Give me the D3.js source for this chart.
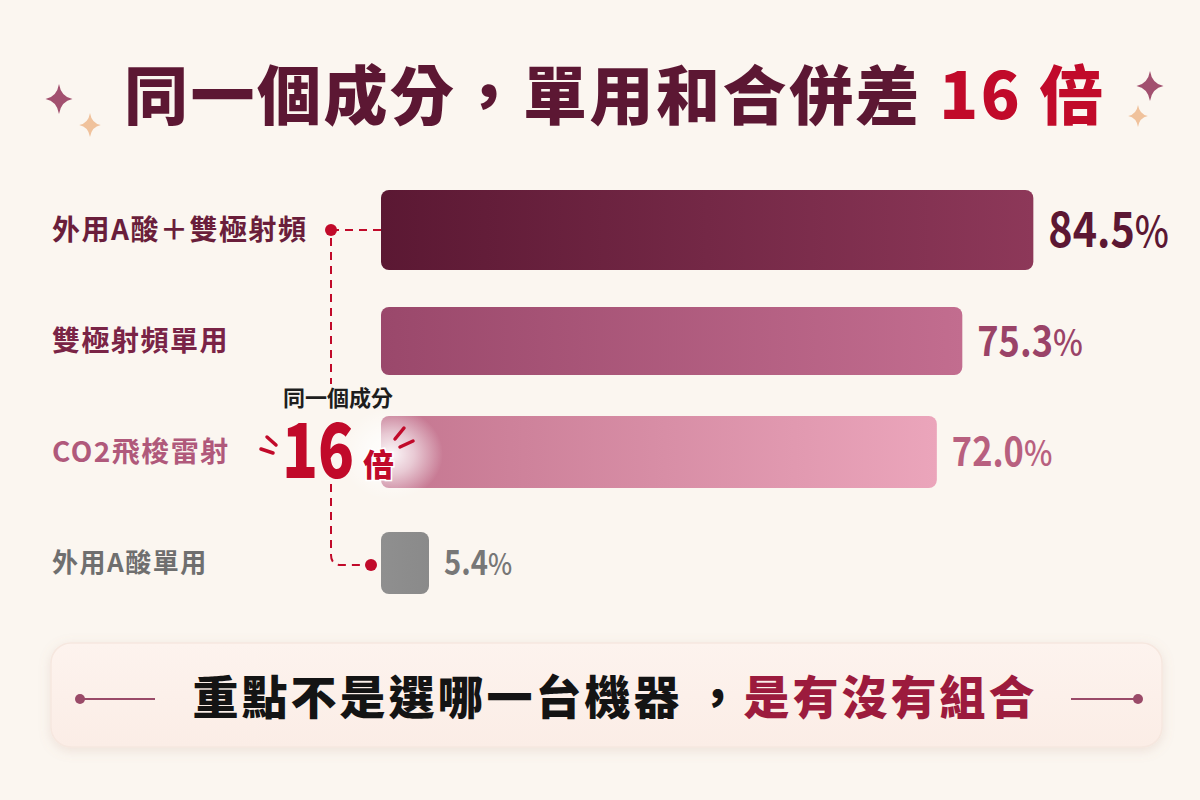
<!DOCTYPE html>
<html>
<head>
<meta charset="utf-8">
<script src="https://cdn.jsdelivr.net/npm/d3@7"></script>
<style>
body{margin:0;background:#fbf6f0;}
svg{display:block;font-family:"Noto Sans CJK TC","Noto Sans",sans-serif;}
</style>
</head>
<body>
<div id="chart"></div>
<script>
// chart data
let categories = ["外用A酸＋雙極射頻", "雙極射頻單用", "CO2飛梭雷射", "外用A酸單用"]
let values = [84.5, 75.3, 72.0, 5.4]
let valueLabels = ["84.5", "75.3", "72.0", "5.4"]
let titleMain = "同一個成分，單用和合併差 "
let titleAccent = "16 倍"
let ratioLabel = "16"
let ratioUnit = "倍"
let ratioNote = "同一個成分"
let footerMain = "重點不是選哪一台機器\u2009，"
let footerAccent = "是有沒有組合"

// per row styles
let barStops = [["#5b1833", "#8d3859"], ["#9a486b", "#c26d8f"], ["#c47690", "#eba5bb"], ["#8f8f8f", "#8a8a8a"]]
let labelColours = ["#6a1e3b", "#7a2446", "#b0597b", "#6f6f6f"]
let labelSizes = [28, 28, 28, 26]
let valueColours = ["#5c1733", "#9a4368", "#b8607f", "#777777"]
let valueSizes = [48, 42, 40, 34]
let barHeights = [80, 68, 72, 62]

let width = 1200
let height = 800
let red = "#c10a2a"

let svg = d3.select("#chart")
    .append("svg")
        .attr("width", width)
        .attr("height", height)

let defs = svg.append("defs")

barStops.forEach(function(s, i){
    let g = defs.append("linearGradient")
        .attr("id", "bar" + i)
        .attr("x1", "0%").attr("x2", "100%")
    g.append("stop").attr("offset", "0%").attr("stop-color", s[0])
    g.append("stop").attr("offset", "100%").attr("stop-color", s[1])
})

let glow = defs.append("radialGradient").attr("id", "glow")
glow.append("stop").attr("offset", "0%").attr("stop-color", "#fff").attr("stop-opacity", 0.95)
glow.append("stop").attr("offset", "45%").attr("stop-color", "#fff").attr("stop-opacity", 0.6)
glow.append("stop").attr("offset", "100%").attr("stop-color", "#fff").attr("stop-opacity", 0)

let boxFill = defs.append("linearGradient")
    .attr("id", "boxFill")
    .attr("x1", "0%").attr("x2", "0%").attr("y1", "0%").attr("y2", "100%")
boxFill.append("stop").attr("offset", "0%").attr("stop-color", "#fdf3ee")
boxFill.append("stop").attr("offset", "100%").attr("stop-color", "#fbede6")

let shadow = defs.append("filter").attr("id", "shadow")
    .attr("x", "-5%").attr("y", "-20%").attr("width", "110%").attr("height", "150%")
shadow.append("feDropShadow")
    .attr("dx", 0).attr("dy", 3).attr("stdDeviation", 6)
    .attr("flood-color", "#b08070").attr("flood-opacity", 0.18)

// background
svg.append("rect")
    .attr("width", width)
    .attr("height", height)
    .attr("fill", "#fbf6f0")

// sparkles
function sparkle(cx, cy, r, colour){
    let w = r * 0.9, k = r * 0.14
    svg.append("path")
        .attr("d", `M0,${-r} Q${k},${-k} ${w},0 Q${k},${k} 0,${r} Q${-k},${k} ${-w},0 Q${-k},${-k} 0,${-r}Z`)
        .attr("transform", `translate(${cx},${cy})`)
        .attr("fill", colour)
}
sparkle(59, 99, 15, "#a2506f")
sparkle(90, 125, 12, "#f0c29c")
sparkle(1150, 86, 15, "#a2506f")
sparkle(1138, 116, 11, "#f0c29c")

// title
let title = svg.append("text")
    .attr("x", 615)
    .attr("y", 96)
    .attr("dy", "0.36em")
    .attr("text-anchor", "middle")
    .style("font-size", "64px")
    .style("font-weight", 900)
    .style("letter-spacing", "2.5px")
title.append("tspan").attr("fill", "#5c1733").text(titleMain)
title.append("tspan").attr("fill", red).text(titleAccent)

// scales
let x = d3.scaleLinear()
    .domain([0, 100])
    .range([381, 1153])

let y = d3.scalePoint()
    .domain(categories)
    .range([230, 563])

let rows = categories.map(function(c, i){ return {cat: c, value: values[i], label: valueLabels[i], i: i} })

// category labels
svg.selectAll("text.cat")
    .data(rows)
    .join("text")
    .attr("class", "cat")
    .attr("x", 52)
    .attr("y", function(d){ return y(d.cat) })
    .attr("dy", "0.36em")
    .text(function(d){ return d.cat })
    .style("font-size", function(d){ return labelSizes[d.i] + "px" })
    .style("font-weight", 700)
    .style("letter-spacing", "1.5px")
    .attr("fill", function(d){ return labelColours[d.i] })

// bars
let barW = function(d){ return Math.max(x(d.value) - x(0), 48) }

svg.selectAll("rect.bar")
    .data(rows)
    .join("rect")
    .attr("class", "bar")
    .attr("x", x(0))
    .attr("y", function(d){ return y(d.cat) - barHeights[d.i] / 2 })
    .attr("width", barW)
    .attr("height", function(d){ return barHeights[d.i] })
    .attr("rx", 8)
    .attr("fill", function(d){ return "url(#bar" + d.i + ")" })

// value labels, squeezed a little like the reference digits
let vals = svg.selectAll("text.val")
    .data(rows)
    .join("text")
    .attr("class", "val")
    .attr("transform", function(d){ return `translate(${x(0) + barW(d) + 15},${y(d.cat)}) scale(0.86,1)` })
    .attr("dy", "0.36em")
    .style("font-size", function(d){ return valueSizes[d.i] + "px" })
    .style("font-weight", 700)
    .attr("fill", function(d){ return valueColours[d.i] })
vals.append("tspan").text(function(d){ return d.label })
vals.append("tspan").text("%").style("font-weight", 500).style("font-size", "0.88em")

// annotation bracket between first and last rows
let ax = x(0) - 50
let yTop = y(categories[0])
let yMid = y(categories[2])
let yBot = y(categories[3])

let dash = svg.append("g")
    .attr("fill", "none")
    .attr("stroke", red)
    .attr("stroke-width", 2)
    .attr("stroke-dasharray", "8 6")
dash.append("path").attr("d", `M${ax},${yTop} H${x(0)}`)
dash.append("path").attr("d", `M${ax},${yTop + 8} V${yMid - 68}`)
dash.append("path").attr("d", `M${ax},${yMid + 32} V${yBot - 8} Q${ax},${yBot + 2} ${ax + 10},${yBot + 2} H${x(0) - 10}`)

svg.append("circle").attr("cx", ax).attr("cy", yTop).attr("r", 6).attr("fill", red)
svg.append("circle").attr("cx", x(0) - 10).attr("cy", yBot + 2).attr("r", 6).attr("fill", red)

// glow on the laser bar behind the ratio
svg.append("ellipse")
    .attr("cx", x(0) + 10)
    .attr("cy", yMid + 2)
    .attr("rx", 52)
    .attr("ry", 46)
    .attr("fill", "url(#glow)")

svg.append("text")
    .attr("x", ax + 7)
    .attr("y", yMid - 54)
    .attr("dy", "0.36em")
    .attr("text-anchor", "middle")
    .text(ratioNote)
    .style("font-size", "22px")
    .style("font-weight", 700)
    .attr("fill", "#1e1e1e")

svg.append("text")
    .attr("transform", `translate(${ax - 13},${yMid + 26}) scale(0.78,1)`)
    .attr("text-anchor", "middle")
    .text(ratioLabel)
    .style("font-size", "76px")
    .style("font-weight", 900)
    .attr("fill", red)

svg.append("text")
    .attr("x", ax + 32)
    .attr("y", yMid + 24)
    .text(ratioUnit)
    .style("font-size", "31px")
    .style("font-weight", 900)
    .attr("fill", red)
    .attr("stroke", "#fff")
    .attr("stroke-width", 3)
    .attr("paint-order", "stroke")

// burst strokes
let burst = [
    [ax - 70, yMid - 3, ax - 58, yMid + 1],
    [ax - 64, yMid - 15, ax - 55, yMid - 7],
    [ax + 64, yMid - 13, ax + 73, yMid - 24],
    [ax + 69, yMid - 5, ax + 82, yMid - 11]
]
svg.selectAll("line.burst")
    .data(burst)
    .join("line")
    .attr("class", "burst")
    .attr("x1", function(d){ return d[0] })
    .attr("y1", function(d){ return d[1] })
    .attr("x2", function(d){ return d[2] })
    .attr("y2", function(d){ return d[3] })
    .attr("stroke", red)
    .attr("stroke-width", 3.5)
    .attr("stroke-linecap", "round")

// footer box
svg.append("rect")
    .attr("x", 51)
    .attr("y", 643)
    .attr("width", 1111)
    .attr("height", 104)
    .attr("rx", 20)
    .attr("fill", "url(#boxFill)")
    .attr("stroke", "#f6e7df")
    .attr("stroke-width", 1.5)
    .attr("filter", "url(#shadow)")

let deco = svg.append("g").attr("stroke", "#9a4a68").attr("stroke-width", 2)
deco.append("line").attr("x1", 80).attr("x2", 155).attr("y1", 699).attr("y2", 699)
deco.append("line").attr("x1", 1071).attr("x2", 1138).attr("y1", 699).attr("y2", 699)
svg.append("circle").attr("cx", 80).attr("cy", 699).attr("r", 5).attr("fill", "#9a4a68")
svg.append("circle").attr("cx", 1138).attr("cy", 699).attr("r", 5).attr("fill", "#9a4a68")

let footer = svg.append("text")
    .attr("x", 615)
    .attr("y", 697)
    .attr("dy", "0.36em")
    .attr("text-anchor", "middle")
    .style("font-size", "46px")
    .style("font-weight", 900)
    .style("letter-spacing", "3px")
footer.append("tspan").attr("fill", "#141414").text(footerMain)
footer.append("tspan").attr("fill", "#9c1b3d").text(footerAccent)
</script>
</body>
</html>
